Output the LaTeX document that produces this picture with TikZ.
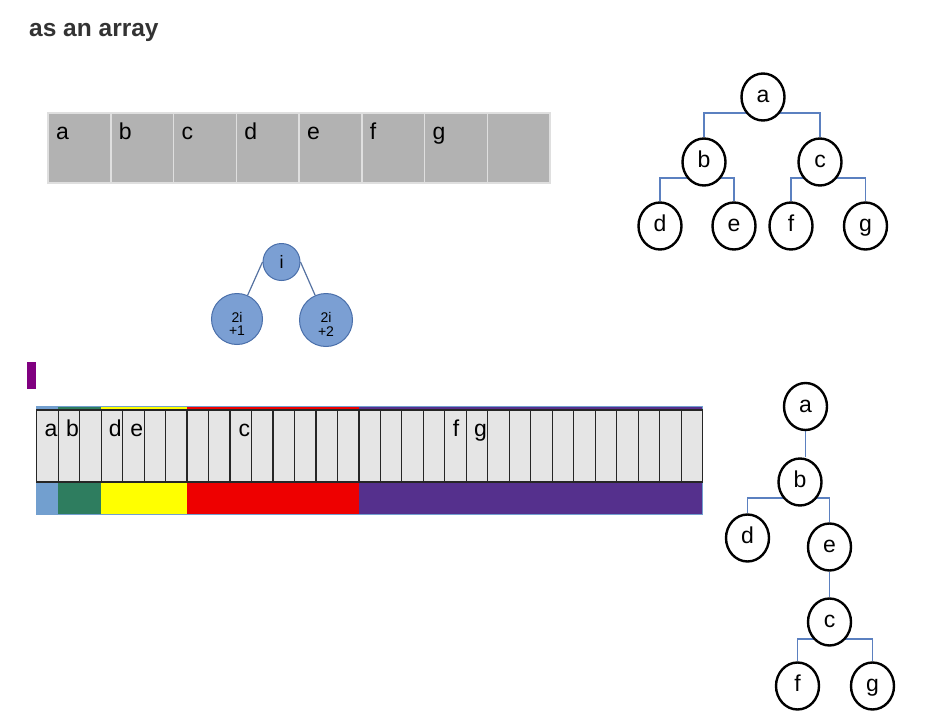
\documentclass[tikz,border=0pt]{standalone}
\usepackage{fontspec}
\setmainfont{Liberation Sans}
\usetikzlibrary{shapes.geometric,calc,backgrounds}
\definecolor{titlegray}{HTML}{333333}
\definecolor{lblue}{HTML}{729FCF}
\definecolor{cgreen}{HTML}{2E7D5F}
\definecolor{cyellow}{HTML}{FFFF00}
\definecolor{cred}{HTML}{EE0000}
\definecolor{cpurple}{HTML}{55308D}
\definecolor{mpurple}{HTML}{800080}
\definecolor{connblue}{HTML}{5B80C0}
\definecolor{ifill}{HTML}{7B9FD3}
\definecolor{iborder}{HTML}{4A6FAA}
\begin{document}
\begin{tikzpicture}[x=1pt,y=-1pt,
  tcell/.style={draw=gray!25, fill=gray!60, line width=1.5pt, minimum width=62.75pt, minimum height=70pt, inner sep=0pt, outer sep=0pt, anchor=north west},
  tlbl/.style={anchor=base west, inner sep=0pt, font=\fontsize{23}{27}\selectfont},
  bcell/.style={draw=black!85, fill=gray!20, line width=1.2pt, minimum width=21.48pt, minimum height=72pt, inner sep=0pt, outer sep=0pt, anchor=north west},
  blbl/.style={anchor=base, inner sep=0pt, font=\fontsize{23}{27}\selectfont},
  tnode/.style={ellipse, draw=black, line width=2.4pt, fill=white, minimum width=43pt, minimum height=47pt, inner sep=0pt, text height=16pt, text depth=4.5pt, font=\fontsize{23}{27}\selectfont},
  tconn/.style={draw=connblue, line width=1.3pt},
  inode/.style={circle, draw=iborder, line width=1pt, fill=ifill, inner sep=0pt},
  itext/.style={align=center, inner sep=0pt, font=\fontsize{14}{13.5}\selectfont},
  iconn/.style={draw=iborder!80!gray, line width=1.2pt}]
\useasboundingbox (0,0) rectangle (946,723);

% title
\node[anchor=base west, inner sep=0pt, text=titlegray, font=\bfseries\fontsize{24.5}{28}\selectfont] (title) at (29,36.5) {as an array};

% top array
\foreach \k in {0,...,7} \node[tcell] (t\k) at ({48+\k*62.75},113) {};
\foreach \k/\t in {0/a,1/b,2/c,3/d,4/e,5/f,6/g}
  \node[tlbl] (tl\k) at ($(t\k.north west)+(8,26)$) {\t};

% top tree
\node[tnode] (ta) at (763,97) {a};
\node[tnode] (tb) at (704,162) {b};
\node[tnode] (tc) at (820,162) {c};
\node[tnode] (td) at (660,226) {d};
\node[tnode] (te) at (734,226) {e};
\node[tnode] (tf) at (791,226) {f};
\node[tnode] (tg) at (865.5,226) {g};
\begin{scope}[on background layer]
  \draw[tconn] ($(ta)+(0,16)$) -| (tb.north);
  \draw[tconn] ($(ta)+(0,16)$) -| (tc.north);
  \draw[tconn] ($(tb)+(0,16)$) -| (td.north);
  \draw[tconn] ($(tb)+(0,16)$) -| (te.north);
  \draw[tconn] ($(tc)+(0,16)$) -| (tf.north);
  \draw[tconn] ($(tc)+(0,16)$) -| (tg.north);
\end{scope}

% i tree
\node[inode, minimum size=37pt, font=\fontsize{18}{20}\selectfont] (i) at (281.5,262) {i};
\node[inode, minimum size=51pt] (i1) at (237,319) {};
\node[inode, minimum size=53pt] (i2) at (326,320) {};
\node[itext] (i1t) at ($(i1)+(0,5)$) {2i\\+1};
\node[itext] (i2t) at ($(i2)+(0,4.5)$) {2i\\+2};
\draw[iconn] (i.west) -- (i1);
\draw[iconn] (i.east) -- (i2);

% purple marker
\fill[mpurple] (27,362) rectangle (36,389);

% bottom array colour bars
\fill[lblue]   (36.7,406.5) rectangle ({36.7+1*21.48},514);
\fill[cgreen]  ({36.7+1*21.48},406.5) rectangle ({36.7+3*21.48},514);
\fill[cyellow] ({36.7+3*21.48},406.5) rectangle ({36.7+7*21.48},514);
\fill[cred]    ({36.7+7*21.48},406.5) rectangle ({36.7+15*21.48},514);
\fill[cpurple] ({36.7+15*21.48},406.5) rectangle ({36.7+31*21.48},514);
\draw[lblue, line width=0.8pt] (36.7,406.5) rectangle ({36.7+31*21.48},514);

% bottom array cells
\foreach \k in {0,...,30} \node[bcell] (b\k) at ({36.7+\k*21.48},410) {};
\foreach \k/\t in {0/a,1/b,3/d,4/e,9/c,20/g}
  \node[blbl] (bl\k) at ($(b\k.north)+(3.5,26)$) {\t};
\node[blbl] (bl19) at ($(b19.north)+(0.5,26)$) {f};

% bottom tree
\node[tnode] (ua) at (805.5,406.5) {a};
\node[tnode] (ub) at (800,482) {b};
\node[tnode] (ud) at (747.5,538) {d};
\node[tnode] (ue) at (829.5,547) {e};
\node[tnode] (uc) at (829.5,622) {c};
\node[tnode] (uf) at (797.5,686) {f};
\node[tnode] (ug) at (872.5,686) {g};
\begin{scope}[on background layer]
  \draw[tconn] (ua.south) -- (ua.south |- ub.north);
  \draw[tconn] ($(ub)+(0,16)$) -| (ud.north);
  \draw[tconn] ($(ub)+(0,16)$) -| (ue.north);
  \draw[tconn] (ue.south) -- (uc.north);
  \draw[tconn] ($(uc)+(0,17)$) -| (uf.north);
  \draw[tconn] ($(uc)+(0,17)$) -| (ug.north);
\end{scope}
\end{tikzpicture}
\end{document}
